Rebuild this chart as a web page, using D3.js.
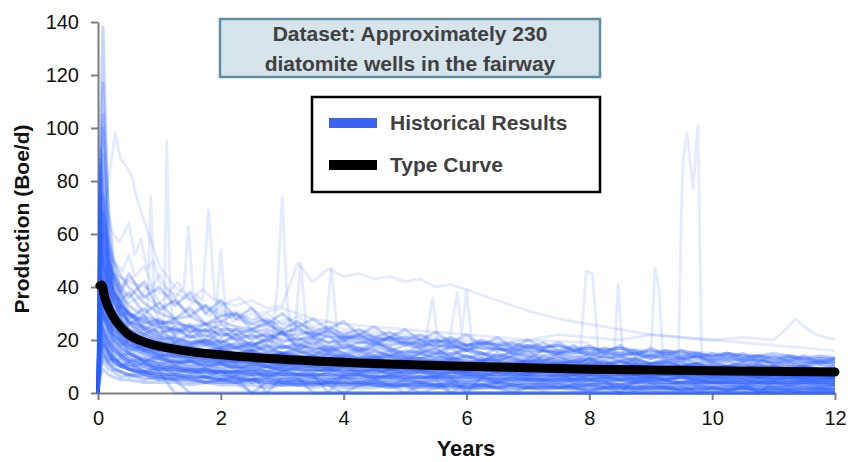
<!DOCTYPE html>
<html>
<head>
<meta charset="utf-8">
<script src="https://cdn.jsdelivr.net/npm/d3@7"></script>
<style>
  html, body { margin: 0; padding: 0; background: #fff; }
  svg { display: block; font-family: "Liberation Sans", Arial, sans-serif; }
</style>
</head>
<body>
<svg id="chart" width="848" height="462"></svg>
<script>
// ---------------- DATA ----------------
// Shared time grid (years) for the typical wells
const years = [0, 0.04, 0.08, 0.17, 0.25, 0.375, 0.5, 0.75, 1,
  1.25, 1.5, 1.75, 2, 2.25, 2.5, 2.75, 3, 3.25, 3.5, 3.75, 4,
  4.25, 4.5, 4.75, 5, 5.25, 5.5, 5.75, 6, 6.25, 6.5, 6.75, 7,
  7.25, 7.5, 7.75, 8, 8.25, 8.5, 8.75, 9, 9.25, 9.5, 9.75, 10,
  10.25, 10.5, 10.75, 11, 11.25, 11.5, 11.75, 12];

// Production (Boe/d) of typical wells, read on the grid above
const wellRates = [
  [0,96,138,62,44,35,29,24,21, 20,18,19,16, 17,15,14,15, 13,14,12,13, 12,13,11,12, 11,10,12,10, 10,11,9,10, 9,10,9,8, 9,8,9,8, 8,9,7,8, 7,8,7,7, 7,6,7,6],
  [5,80,117,55,40,31,26,22,19, 18,17,15,16, 14,15,13,13, 12,13,12,11, 12,11,10,11, 10,11,10,9, 10,9,9,10, 9,8,9,8, 8,8,7,8, 8,7,8,7, 7,7,6,7, 6,7,6,6],
  [10,80,105,70,50,38,30,25,22, 21,19,20,18, 17,18,16,15, 16,14,15,14, 13,14,13,12, 13,12,12,11, 12,11,11,10, 11,10,10,11, 10,9,10,9, 9,10,9,9, 9,8,9,8, 8,8,9,8],
  [0,92,75,48,36,28,24,20,18, 17,16,15,15, 14,13,14,12, 12,13,11,11, 11,12,10,10, 10,11,9,10, 9,10,9,8, 9,8,8,9, 8,8,7,8, 7,8,7,7, 7,7,6,7, 6,6,7,6],
  [20,85,70,58,50,44,40,34,30, 28,29,26,27, 25,24,26,23, 24,22,23,21, 22,21,20,21, 20,19,20,18, 19,18,17,18, 17,18,16,17, 16,17,15,16, 15,16,15,14, 15,14,14,15, 14,13,14,13],
  [0,60,75,52,40,32,27,23,20, 19,17,18,16, 15,16,14,14, 13,14,13,12, 12,13,12,11, 11,12,10,11, 11,10,10,9, 10,9,10,9, 9,9,8,9, 8,9,8,8, 8,8,7,8, 7,8,7,7],
  [8,70,55,40,32,26,23,19,17, 16,15,14,14, 13,13,12,12, 11,12,11,10, 11,10,10,9, 10,9,9,9, 9,8,9,8, 8,8,8,7, 8,7,7,8, 7,7,7,6, 7,6,6,7, 6,6,6,5],
  [0,45,65,48,38,31,27,24,21, 20,19,19,17, 17,16,17,15, 15,16,14,14, 14,13,14,13, 13,12,13,12, 12,12,11,12, 11,11,12,10, 11,10,11,10, 10,10,9,10, 10,9,9,10, 9,9,9,8],
  [2,60,50,38,30,25,22,18,16, 15,14,14,13, 12,13,12,11, 11,11,10,11, 10,10,9,10, 9,9,10,8, 9,8,8,9, 8,8,7,8, 7,8,7,7, 7,7,6,7, 6,7,6,6, 6,6,5,6],
  [0,40,55,42,34,28,24,21,19, 18,17,16,17, 15,16,14,15, 14,13,14,13, 13,12,13,12, 12,12,11,11, 11,11,12,10, 10,11,10,10, 10,9,10,9, 9,10,9,9, 9,9,8,9, 8,9,8,8],
  [10,50,44,35,28,23,20,17,15, 14,14,13,12, 12,12,11,11, 11,10,10,11, 10,10,9,9, 9,9,9,8, 9,8,8,8, 8,8,7,8, 7,7,8,7, 7,7,7,6, 7,6,6,6, 6,6,6,5],
  [0,48,42,33,27,22,19,16,14, 14,13,12,12, 11,12,10,11, 10,10,10,9, 10,9,9,9, 9,8,9,8, 8,8,8,7, 8,7,7,7, 7,7,6,7, 6,7,6,6, 6,6,6,5, 6,5,5,5],
  [5,45,38,30,26,24,22,20,19, 19,18,20,19, 18,19,18,17, 18,17,16,17, 16,17,16,15, 16,15,15,16, 15,14,15,14, 14,15,14,13, 14,13,13,14, 13,13,12,13, 12,13,12,12, 12,11,12,11],
  [0,30,42,33,27,23,20,17,15, 15,14,13,13, 12,13,12,11, 12,11,11,10, 11,10,10,10, 10,10,9,9, 9,9,9,8, 9,8,8,8, 8,8,7,8, 7,7,8,7, 7,7,7,6, 7,6,6,6],
  [3,40,35,28,23,19,17,14,13, 12,12,11,11, 10,10,10,9, 9,9,9,8, 9,8,8,8, 8,8,7,8, 7,7,7,7, 7,7,6,7, 6,6,7,6, 6,6,6,5, 6,5,5,6, 5,5,5,5],
  [0,25,38,30,25,21,18,16,14, 13,13,12,12, 11,11,11,10, 10,10,10,9, 9,9,9,9, 9,8,8,8, 8,8,8,7, 8,7,7,7, 7,7,7,6, 7,6,6,6, 6,6,6,6, 6,5,6,5],
  [5,35,30,24,20,17,15,13,12, 11,11,10,10, 10,9,9,9, 9,8,9,8, 8,8,8,7, 8,7,7,7, 7,7,6,7, 6,6,6,6, 6,6,5,6, 5,6,5,5, 5,5,5,5, 5,5,4,5],
  [0,32,28,22,18,15,13,11,10, 10,9,9,8, 8,8,8,7, 7,7,7,7, 7,6,6,6, 6,6,6,6, 6,5,5,5, 5,5,5,5, 5,5,4,5, 4,4,5,4, 4,4,4,4, 4,4,4,3],
  [0,20,30,26,22,20,18,17,16, 16,15,16,15, 15,14,15,14, 14,14,13,14, 13,13,14,13, 13,12,13,12, 12,13,12,12, 12,11,12,11, 11,11,12,11, 11,10,11,10, 10,11,10,10, 10,10,9,10],
  [2,28,24,19,16,14,12,11,10, 9,9,9,8, 8,8,7,8, 7,7,7,7, 7,6,7,6, 6,6,6,6, 6,6,5,6, 5,5,6,5, 5,5,5,5, 5,5,4,5, 4,5,4,4, 4,4,4,4],
  [0,18,25,20,17,14,12,10,9, 9,8,8,8, 7,7,7,7, 7,6,6,6, 6,6,6,5, 6,5,5,5, 5,5,5,5, 5,4,5,4, 4,4,4,4, 4,4,4,4, 4,3,4,3, 3,3,3,3],
  [0,22,18,14,12,10,9,8,7, 7,6,6,6, 6,5,6,5, 5,5,5,5, 5,4,5,4, 4,4,4,4, 4,4,4,3, 4,3,3,3, 3,3,3,3, 3,3,3,3, 3,2,3,2, 2,2,2,2],
  [0,12,20,16,13,11,9,8,7, 6,6,6,5, 5,5,5,5, 4,5,4,4, 4,4,4,4, 4,3,4,3, 3,3,3,3, 3,3,3,3, 3,2,3,2, 2,2,2,2, 2,2,2,2, 2,2,2,2],
  [0,10,15,12,10,8,7,6,5, 5,5,4,4, 4,4,4,4, 3,3,4,3, 3,3,3,3, 3,3,3,2, 3,2,2,2, 2,2,2,2, 2,2,2,2, 2,2,1,2, 1,2,1,1, 1,1,1,1],
  [0,55,45,32,25,20,16,12,8, 0,0,0,0, 0,0,0,0, 0,0,0,0, 0,0,0,0, 0,0,0,0, 0,0,0,0, 0,0,0,0, 0,0,0,0, 0,0,0,0, 0,0,0,0, 0,0,0,0],
  [0,35,30,22,18,15,13,11,10, 9,8,8,7, 6,0,0,0, 0,0,0,0, 0,0,0,0, 0,0,0,0, 0,0,0,0, 0,0,0,0, 0,0,0,0, 0,0,0,0, 0,0,0,0, 0,0,0,0],
  [0,28,22,16,13,11,9,7,6, 5,6,4,5, 4,0,4,3, 3,4,3,0, 3,3,2,3, 0,2,3,2, 2,2,0,2, 2,2,2,1, 2,0,1,1, 1,1,1,0, 1,1,0,1, 1,0,0,0],
  [0,40,32,24,20,16,14,12,11, 10,10,9,9, 8,9,8,8, 8,7,0,7, 7,7,6,7, 6,6,6,0, 6,5,6,5, 5,5,5,5, 5,0,5,4, 4,4,4,4, 4,4,0,4, 3,4,3,3],
  [0,80,62,45,35,28,24,20,18, 17,16,16,15, 14,14,13,13, 13,12,12,12, 11,12,11,10, 11,10,10,10, 10,9,10,9, 9,9,9,8, 9,8,8,8, 8,8,8,7, 8,7,7,7, 7,7,7,6],
  [0,50,68,55,45,38,33,29,27, 26,25,26,24, 24,23,24,22, 22,23,21,21, 21,20,21,20, 19,20,19,18, 19,18,18,17, 17,18,16,17, 16,17,16,15, 16,15,15,14, 15,14,14,13, 14,13,13,13],
  [0,58,48,36,30,25,21,18,16, 16,15,15,14, 14,13,13,12, 13,12,12,11, 12,11,11,11, 11,10,11,10, 10,10,10,9, 10,9,9,9, 9,9,8,9, 8,9,8,8, 8,8,8,7, 8,7,7,7],
  [0,46,40,32,27,22,19,16,15, 14,14,13,13, 12,12,12,11, 11,11,11,10, 11,10,10,10, 10,10,9,9, 9,9,9,9, 9,8,9,8, 8,8,8,8, 8,8,7,8, 7,7,8,7, 7,7,7,7],
  [0,22,36,29,24,20,17,15,13, 12,12,12,11, 11,11,10,10, 10,10,9,10, 9,9,9,9, 9,9,8,9, 8,8,8,8, 8,8,8,7, 8,7,7,7, 7,7,7,7, 7,7,6,7, 6,7,6,6],
  [0,62,55,44,38,33,30,27,25, 24,23,24,22, 22,21,22,20, 20,21,19,20, 19,19,18,19, 18,18,17,18, 17,17,16,17, 16,16,15,16, 15,15,15,14, 15,14,14,14, 14,13,14,13, 13,13,12,13],
  [0,26,23,18,15,13,11,10,9, 9,8,8,8, 8,7,8,7, 7,7,7,6, 7,6,6,6, 6,6,6,6, 6,5,6,5, 5,5,5,5, 5,5,5,5, 5,4,5,4, 4,4,4,4, 4,4,4,4],
  [0,70,100,40,28,22,18,15,13, 12,12,11,11, 10,10,10,9, 9,9,9,8, 8,8,8,8, 8,7,8,7, 7,7,7,7, 7,6,7,6, 6,6,6,6, 6,6,5,6, 5,6,5,5, 5,5,5,5],
  [0,70,60,50,42,38,45,36,40, 33,38,30,35, 28,32,26,30, 25,28,24,27, 22,25,21,24, 20,23,19,22, 18,21,17,20, 17,19,16,18, 15,18,14,17, 14,16,13,15, 13,15,12,14, 12,14,11,13],
  [0,55,50,40,45,35,38,30,34, 28,32,26,29, 30,24,27,22, 25,21,24,20, 22,19,21,18, 20,17,19,16, 18,16,17,15, 16,15,16,14, 15,14,15,13, 14,13,14,12, 13,12,13,11, 12,11,12,11],
  [0,88,66,52,44,40,36,42,31, 35,29,33,27, 30,26,28,24, 27,23,25,22, 24,21,23,20, 22,19,21,18, 20,18,19,17, 19,16,18,15, 17,15,16,14, 16,14,15,13, 15,13,14,12, 14,12,13,12],
  [0,20,16,12,14,10,12,8,10, 7,9,6,8, 5,7,0,6, 5,6,4,6, 4,5,3,5, 4,5,0,4, 3,4,3,4, 3,4,2,3, 3,3,2,3, 2,3,0,2, 2,3,2,2, 2,2,2,1],
  [0,30,25,18,14,11,9,7,6, 5,0,0,0, 0,0,0,0, 0,0,0,0, 0,0,0,0, 0,0,0,0, 0,0,0,0, 0,0,0,0, 0,0,0,0, 0,0,0,0, 0,0,0,0, 0,0,0,0],
  [0,42,36,27,22,18,15,12,11, 10,9,9,8, 8,7,7,6, 6,0,0,0, 0,0,0,0, 0,0,0,0, 0,0,0,0, 0,0,0,0, 0,0,0,0, 0,0,0,0, 0,0,0,0, 0,0,0,0],
  [0,24,20,15,12,10,9,8,7, 7,6,6,5, 5,5,5,4, 4,4,4,4, 4,3,3,3, 3,3,0,0, 0,0,0,0, 0,0,0,0, 0,0,0,0, 0,0,0,0, 0,0,0,0, 0,0,0,0],
  [0,48,52,40,35,29,31,24,27, 22,25,19,23, 20,17,21,18, 16,19,15,18, 17,14,16,13, 15,17,13,14, 12,15,13,11, 14,12,11,13, 10,12,11,9, 12,10,11,9, 10,8,11,9, 9,10,8,9],
  [0,35,44,38,30,33,26,29,22, 25,21,24,19, 22,18,20,23, 17,20,16,19, 15,18,17,14, 16,14,17,13, 15,12,14,16, 12,14,11,13, 12,10,13,11, 11,12,9,11, 10,9,11,8, 10,9,8,9],
  [6,30,28,25,21,18,20,16,18, 14,16,13,15, 12,14,11,15, 12,10,13,11, 12,9,11,10, 12,9,10,8, 11,9,10,8, 9,10,8,9, 8,9,7,9, 8,7,9,7, 8,7,6,8, 7,6,7,6],
  [0,65,58,46,38,34,28,32,26, 28,23,26,21, 24,20,23,19, 21,18,22,17, 19,20,16,18, 17,15,18,16, 14,17,15,13, 16,14,12,15, 13,14,12,11, 13,12,14,11, 12,10,12,11, 11,10,12,10],
  [0,14,18,15,12,13,10,11,9, 10,8,9,7, 8,9,6,8, 7,6,8,6, 7,5,7,6, 5,7,5,6, 6,4,6,5, 5,6,4,5, 4,5,4,5, 5,3,4,4, 4,4,3,4, 3,4,3,3],
  [0,75,60,45,38,30,26,22,25, 19,22,18,20, 17,19,15,18, 16,14,17,15, 13,16,14,12, 15,13,14,11, 13,12,10,13, 11,12,10,11, 12,9,11,10, 9,11,10,8, 10,9,8,10, 9,8,9,8],
  [0,38,33,26,22,19,16,18,14, 15,13,14,12, 13,11,12,10, 12,11,9,11, 10,11,9,10, 8,10,9,8, 9,8,10,7, 9,8,7,8, 7,8,7,6, 8,7,6,7, 6,7,6,5, 6,6,5,6],
  [0,56,47,39,36,30,27,25,23, 24,21,22,19, 21,18,20,17, 19,16,18,15, 17,16,14,16, 15,13,15,14, 12,14,13,12, 13,11,12,13, 11,12,10,11, 12,10,11,9, 10,11,9,10, 9,10,9,8],
  [4,26,24,20,17,14,15,12,13, 11,12,10,11, 9,11,10,8, 10,9,8,9, 8,9,7,8, 9,7,8,7, 6,8,7,6, 7,6,7,5, 6,7,5,6, 5,6,5,6, 5,5,4,5, 5,4,5,4],
  [0,72,90,50,40,33,30,26,28, 23,26,21,24, 20,22,19,23, 18,21,17,20, 16,19,17,15, 18,16,14,17, 15,13,16,14, 12,15,13,12, 14,12,13,11, 12,13,11,12, 10,12,11,10, 11,10,11,9],
  [0,18,22,19,16,14,12,13,11, 12,10,11,9, 10,8,10,9, 7,9,8,10, 8,7,9,7, 8,6,8,7, 7,6,8,6, 6,7,5,7, 6,5,6,6, 5,6,5,4, 5,5,4,5, 4,5,4,4],
  [0,42,40,34,30,27,24,22,20, 21,19,20,17, 19,16,18,15, 17,15,16,14, 16,13,15,14, 13,15,12,14, 13,12,14,11, 12,13,11,12, 11,12,10,11, 11,10,11,9, 10,9,10,9, 9,10,8,9],
  [8,33,30,27,24,22,20,17,19, 16,18,15,17, 14,16,13,15, 14,12,15,13, 12,14,11,13, 12,11,13,10, 12,10,11,12, 10,11,9,11, 10,9,11,9, 10,8,10,9, 8,9,8,9, 8,8,7,8],
  [0,16,14,11,9,8,7,8,6, 7,5,6,5, 6,4,5,4, 5,3,4,4, 3,4,3,0, 3,3,2,3, 3,2,3,2, 2,3,2,0, 2,2,2,2, 2,1,2,2, 1,2,1,1, 1,1,1,1],
  [0,60,50,42,38,34,30,28,26, 27,25,23,26, 22,24,21,23, 20,22,19,21, 20,18,21,19, 17,20,18,16, 19,17,15,18, 16,15,17,14, 16,14,15,13, 15,13,14,12, 14,12,13,11, 13,12,11,12],
  [0,28,30,24,20,17,15,12,14, 11,12,10,11, 9,10,8,10, 9,8,9,7, 8,9,7,8, 7,8,6,7, 8,6,7,6, 6,7,5,6, 6,5,6,5, 5,6,4,5, 5,4,5,4, 4,5,4,4],
  [0,10,12,9,8,6,7,5,6, 5,4,5,4, 4,5,3,4, 3,4,3,3, 4,3,2,3, 3,2,3,2, 2,3,2,2, 3,2,2,1, 2,2,1,2, 2,1,2,1, 1,2,1,1, 1,1,1,1],
  [0,8,14,11,9,8,6,7,5, 6,5,4,5, 4,5,4,3, 4,3,4,3, 3,4,3,3, 2,3,3,2, 3,2,3,2, 2,2,3,2, 2,2,1,2, 2,1,2,2, 1,2,1,2, 1,1,2,1],
  [3,18,16,13,11,10,9,7,8, 6,7,6,5, 6,5,6,4, 5,4,5,4, 4,5,4,3, 4,3,4,3, 3,4,3,3, 3,2,3,3, 2,3,2,3, 2,2,3,2, 2,2,2,2, 2,2,1,2],
  [0,24,20,16,13,11,10,9,8, 8,7,8,6, 7,6,7,5, 6,6,5,6, 5,6,5,5, 4,5,5,4, 5,4,4,5, 4,4,4,3, 4,3,4,4, 3,4,3,3, 3,3,3,3, 3,3,2,3],
  [0,6,9,7,6,5,5,4,4, 4,3,4,3, 3,3,2,3, 3,2,3,2, 2,2,3,2, 2,2,2,1, 2,2,1,2, 1,2,1,1, 1,1,2,1, 1,1,1,1, 1,1,1,0, 1,0,1,0],
  [0,15,19,15,12,10,11,8,9, 8,9,7,8, 7,8,6,7, 6,7,6,5, 6,5,6,5, 5,6,4,5, 5,4,5,4, 4,5,4,4, 4,3,4,4, 3,4,3,4, 3,3,4,3, 3,3,3,3]
];

// Sparse, high or spiky wells, each on its own time grid
const spikeYears = [
  [0,0.04,0.08,0.17,0.25,0.5,0.75,1.0, 1.08,1.12,1.17,1.25,1.5,2,2.5,3, 4,5,6,7,8,9,10,11,12],
  [0,0.08,0.17,0.28,0.37,0.45,0.55,0.65,0.75,0.9,1, 1.25,1.5,1.75,2,2.5,3,3.5,4, 5,6,7,8],
  [0,0.04,0.08,0.17,0.25,0.5,0.75,0.8,0.86,0.92,1, 1.25,1.5,2,2.5,2.83,2.92,3.0,3.08,3.17, 3.5,4,4.5,5,6,7,8,9,10,11,12],
  [0,0.04,0.08,0.17,0.25,0.5,0.75,1, 1.25,1.4,1.47,1.55,1.7,1.8,1.9,2, 2.25,2.5,2.75,3,3.25,3.5,3.75,4, 4.25,4.5,4.75,5,5.25,5.5,5.75,6, 6.25,6.5,6.75,7, 7.5,8,8.5,9,9.5,10,10.5,11,11.5,12],
  [0,0.04,0.08,0.17,0.25,0.5,0.75,1, 1.5,2,2.5,3,4,5,6,7,8,9, 9.25,9.45,9.5,9.53,9.59,9.69,9.77,9.83, 10,10.5,11,11.5,12],
  [0,0.04,0.08,0.17,0.25,0.5,0.75,1, 1.5,2,3,4,5,6,7, 7.5,7.85,7.95,8.05,8.15, 8.3,8.4,8.47,8.55,8.7, 9.0,9.07,9.13,9.2,9.5, 10,10.5,11,11.5,12],
  [0,0.04,0.08,0.17,0.25,0.5,0.75,1, 1.5,2,2.5,3,3.5,4,4.5,5, 5.3,5.45,5.55,5.7,5.85,5.92,6.0,6.1, 6.3,6.5,7,7.5,8,9,10,11,12],
  [0,0.04,0.08,0.17,0.25,0.5,0.75,1, 1.5,2,3,4,5,6,7, 7.5,8,8.5,9,9.5,10,10.5,11, 11.2,11.35,11.5,11.7,12],
  [0,0.04,0.08,0.17,0.25,0.5,0.75,1, 1.5,1.9,2.0,2.1,2.5,3,3.2,3.3, 3.4,3.7,3.8,3.9,4.5,5,6,7, 8,9,10,11,12],
  [0,0.04,0.08,0.17,0.25,0.4,0.5,0.6,0.75,0.9, 1,1.15,1.3,1.5,1.7,2,2.3,2.6,3,3.5, 4,5,6,7,8],
  [0,0.04,0.08,0.17,0.25,0.4,0.55,0.7,0.85,1, 1.2,1.4,1.6,1.8,2,2.2,2.5,2.8,3.1,3.5, 4,4.5,5],
  [0,0.04,0.08,0.17,0.25,0.35,0.5,0.6,0.7,0.8, 0.9,1,1.2,1.5,2,2.5,3,4,5,6],
  [0,0.08,0.17,0.25,0.5,0.75,1,1.25,1.5,1.75, 2,2.25,2.5,2.75,3,3.25,3.5,3.75,4,4.5, 5,5.5,6,7,8,9,10,11,12]
];
const spikeRates = [
  [0,45,40,32,28,22,18,16, 30,95,40,17,15,14,13,12, 11,10,9,9,8,8,7,7,6],
  [0,60,80,98,88,86,82,72,65,55,48, 40,36,32,30,26,24,22,21, 19,17,16,15],
  [0,50,48,40,35,30,27,30,74,32,25, 22,20,18,17,18,40,74,35,18, 17,15,15,14,13,12,11,10,10,9,9],
  [0,60,55,48,45,42,40,38, 36,40,63,38,35,69,36,34, 33,35,32,33,49,42,47,44, 45,43,44,42,43,40,41,39, 37,35,33,31, 28,26,24,22,21,20,19,18,17,16],
  [0,40,35,28,24,19,16,14, 13,12,12,11,10,10,9,9,8,8, 8,12,70,89,98,77,101,10, 8,8,7,7,7],
  [0,35,32,26,22,18,16,14, 13,12,11,10,10,9,9, 12,14,46,45,14, 13,12,41,13,12, 14,47,40,13,11, 10,10,9,9,8],
  [0,45,40,33,28,23,20,18, 17,16,16,15,15,14,14,14, 15,36,16,17,38,22,39,16, 15,14,13,13,12,12,11,10,10],
  [0,38,34,28,25,22,20,19, 18,18,17,17,19,18,20, 22,21,20,22,21,20,21,20, 24,28,25,22,20],
  [0,52,46,38,34,29,27,25, 24,23,54,24,22,21,22,49, 23,22,47,22,20,19,17,16, 15,14,13,12,12],
  [0,70,62,55,50,46,52,44,48,40, 45,38,42,35,39,33,36,30,32,28, 26,24,22,20,19],
  [0,55,60,50,46,40,44,37,41,34, 38,31,35,29,33,27,30,26,28,24, 22,21,19],
  [0,85,75,66,60,57,64,52,58,47, 50,42,38,35,31,28,26,23,21,19],
  [0,40,38,36,34,37,32,35,30,33, 29,31,27,30,26,29,25,27,24,23, 22,21,20,18,17,16,15,14,14]
];

// Type curve
const typeYears = [0.03, 0.06, 0.11, 0.25, 0.47, 0.8, 1.34, 2.04, 2.96, 4.6, 6, 8, 10, 12];
const typeRates = [40.5, 40.8, 36, 28.7, 22.6, 18.9, 16.2, 14.3, 12.8, 11, 10.1, 9, 8.4, 7.9];

const xTicks = [0, 2, 4, 6, 8, 10, 12];
const yTicks = [0, 20, 40, 60, 80, 100, 120, 140];
const noteLines = ["Dataset: Approximately 230", "diatomite wells in the fairway"];
const legendLabels = ["Historical Results", "Type Curve"];

// ---------------- DRAW ----------------
const svg = d3.select("#chart");
const x = d3.scaleLinear().domain([0, 12]).range([98, 835]);
const y = d3.scaleLinear().domain([0, 140]).range([393, 22]);
const axisGrey = "#7f7f7f";
const wellBlue = "#2f62ff";
const FONT = '"Liberation Sans", Arial, sans-serif';

// Axes
const xAxis = svg.append("g").attr("transform", "translate(0,393)")
  .call(d3.axisBottom(x).tickValues(xTicks).tickFormat(d3.format("d")).tickSizeInner(7).tickSizeOuter(0).tickPadding(11));
const yAxis = svg.append("g").attr("transform", "translate(98,0)")
  .call(d3.axisLeft(y).tickValues(yTicks).tickFormat(d3.format("d")).tickSizeInner(7).tickSizeOuter(0).tickPadding(12));
[xAxis, yAxis].forEach(g => {
  g.select(".domain").attr("stroke", axisGrey).attr("stroke-width", 2);
  g.selectAll(".tick line").attr("stroke", axisGrey).attr("stroke-width", 2);
  g.selectAll(".tick text").attr("fill", "#111").style("font-size", "20px").style("font-family", FONT);
});

// Well traces
const line = d3.line().x(d => x(d[0])).y(d => y(d[1]));
const coreWells = wellRates.map(r => r.slice(0, years.length).map((v, i) => [years[i], v]));
const spikeWells = spikeRates.map((r, k) => r.map((v, i) => [spikeYears[k][i], v]));
const gW = svg.append("g");
gW.selectAll("path.core").data(coreWells).join("path").attr("class", "core")
  .attr("d", line).attr("fill", "none").attr("stroke", wellBlue)
  .attr("stroke-opacity", 0.28).attr("stroke-width", 3).attr("stroke-linejoin", "round");
gW.selectAll("path.spike").data(spikeWells).join("path").attr("class", "spike")
  .attr("d", line).attr("fill", "none").attr("stroke", wellBlue)
  .attr("stroke-opacity", 0.13).attr("stroke-width", 2.8).attr("stroke-linejoin", "round");

// Type curve
svg.append("path")
  .datum(typeYears.map((t, i) => [t, typeRates[i]]))
  .attr("d", d3.line().x(d => x(d[0])).y(d => y(d[1])).curve(d3.curveMonotoneX))
  .attr("fill", "none").attr("stroke", "#000").attr("stroke-width", 9)
  .attr("stroke-linecap", "round");

// Axis titles
svg.append("text").attr("x", 466).attr("y", 456).attr("text-anchor", "middle")
  .style("font-size", "22px").style("font-weight", "bold").style("font-family", FONT)
  .attr("fill", "#111").text("Years");
svg.append("text").attr("transform", "translate(29,219) rotate(-90)").attr("text-anchor", "middle")
  .style("font-size", "21px").style("font-weight", "bold").style("font-family", FONT)
  .attr("fill", "#111").text("Production (Boe/d)");

// Note box
svg.append("rect").attr("x", 220).attr("y", 19).attr("width", 380).attr("height", 58)
  .attr("fill", "#d6e4ec").attr("stroke", "#5f8ea6").attr("stroke-width", 2.5);
svg.append("g").selectAll("text").data(noteLines).join("text")
  .attr("x", 410).attr("y", (d, i) => 41 + i * 30).attr("text-anchor", "middle")
  .style("font-size", "21px").style("font-weight", "bold").style("font-family", FONT)
  .attr("fill", "#404040").text(d => d);

// Legend
svg.append("rect").attr("x", 312).attr("y", 97).attr("width", 288).attr("height", 95)
  .attr("fill", "#fff").attr("stroke", "#000").attr("stroke-width", 2.5);
const legColors = ["#3a62f5", "#000"];
const leg = svg.append("g").selectAll("g").data(legendLabels).join("g")
  .attr("transform", (d, i) => `translate(0,${123 + i * 42})`);
leg.append("rect").attr("x", 329).attr("y", -5).attr("width", 48).attr("height", 10)
  .attr("fill", (d, i) => legColors[i]);
leg.append("text").attr("x", 390).attr("y", 7).style("font-size", "21px").style("font-weight", "bold")
  .style("font-family", FONT).attr("fill", "#404040").text(d => d);
</script>
</body>
</html>
